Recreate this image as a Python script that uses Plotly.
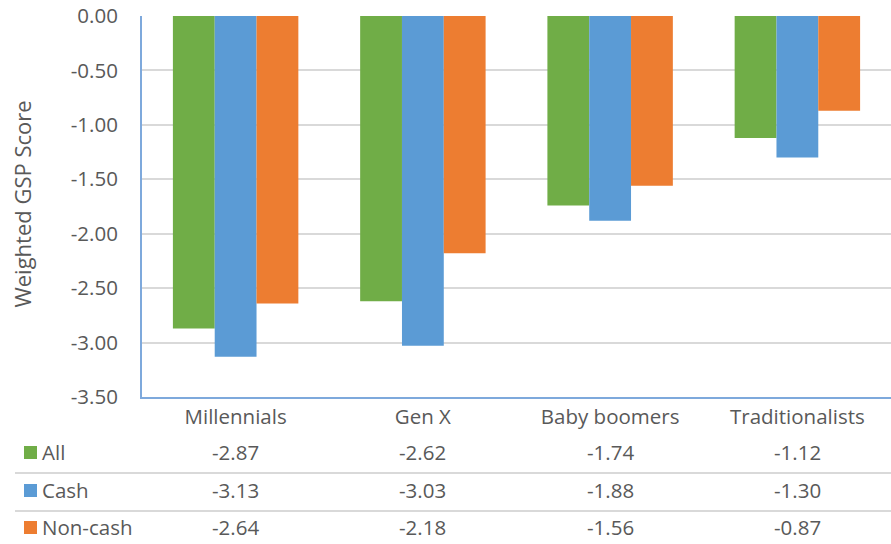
import plotly.graph_objects as go

categories = ["Millennials", "Gen X", "Baby boomers", "Traditionalists"]
series_names = ["All", "Cash", "Non-cash"]
all_vals = [-2.87, -2.62, -1.74, -1.12]
cash_vals = [-3.13, -3.03, -1.88, -1.30]
noncash_vals = [-2.64, -2.18, -1.56, -0.87]
colors = ["#70AD47", "#5B9BD5", "#ED7D31"]
y_ticks = [0.0, -0.5, -1.0, -1.5, -2.0, -2.5, -3.0, -3.5]
y_tick_labels = ["0.00", "-0.50", "-1.00", "-1.50", "-2.00", "-2.50", "-3.00", "-3.50"]

series_values = [all_vals, cash_vals, noncash_vals]

FONT = "Open Sans"
TXT = "#595959"
FS = 20.5
W, H = 891, 544
L, R, T, B = 142, 0, 16, 147
plot_h = H - T - B
plot_w = W - L - R

def py(pix):
    return (H - B - pix) / plot_h

def px(pix):
    return (pix - L) / plot_w

fig = go.Figure()
for name, vals, col in zip(series_names, series_values, colors):
    fig.add_trace(go.Bar(x=categories, y=vals, name=name, marker=dict(color=col, line=dict(width=0)),
                         showlegend=False))

annotations = []
shapes = []
row_pix = [452, 490, 527]
for i, (name, vals, col) in enumerate(zip(series_names, series_values, colors)):
    yc = py(row_pix[i])
    for c, v in zip(categories, vals):
        annotations.append(dict(x=c, xref="x", y=yc, yref="paper", text=f"{v:.2f}", showarrow=False,
                                font=dict(family=FONT, size=FS, color=TXT), xanchor="center", yanchor="middle"))
    annotations.append(dict(x=px(40), xref="paper", y=yc, yref="paper", text=name, showarrow=False,
                            font=dict(family=FONT, size=FS, color=TXT), xanchor="left", yanchor="middle"))
    shapes.append(dict(type="rect", xref="paper", yref="paper", x0=px(24), x1=px(37),
                       y0=py(row_pix[i] + 7), y1=py(row_pix[i] - 6), fillcolor=col, line=dict(width=0)))

for lp in [473, 511]:
    shapes.append(dict(type="line", xref="paper", yref="paper", x0=px(15), x1=1, y0=py(lp), y1=py(lp),
                       line=dict(color="#D9D9D9", width=2)))

annotations.append(dict(x=px(22), xref="paper", y=0.505, yref="paper", text="Weighted GSP Score",
                        textangle=-90, showarrow=False, font=dict(family=FONT, size=22, color=TXT),
                        xanchor="center", yanchor="middle"))

fig.update_layout(
    width=W, height=H, margin=dict(l=L, r=R, t=T, b=B),
    plot_bgcolor="white", paper_bgcolor="white",
    barmode="group", bargap=0.33, bargroupgap=0,
    annotations=annotations, shapes=shapes,
    font=dict(family=FONT, size=FS, color=TXT),
)
fig.update_xaxes(showline=True, linecolor="#7EA9DC", linewidth=2, ticks="", 
                 tickfont=dict(family=FONT, size=FS, color=TXT),
                 showgrid=False, mirror=False)
fig.update_yaxes(range=[-3.5, 0], tickvals=y_ticks, ticktext=y_tick_labels, showline=True,
                 linecolor="#7EA9DC", linewidth=2, showgrid=True, gridcolor="#D9D9D9", gridwidth=2,
                 zeroline=False, ticks="outside", ticklen=18, tickcolor="rgba(0,0,0,0)",
                 tickfont=dict(family=FONT, size=FS, color=TXT))

fig.write_html("out.html")
